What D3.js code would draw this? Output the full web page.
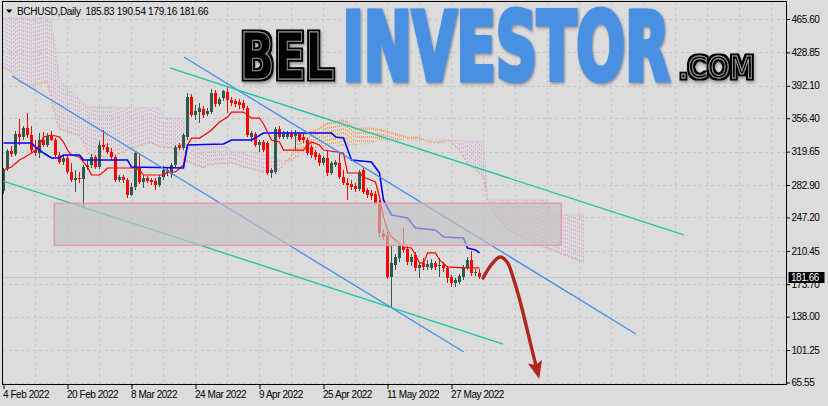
<!DOCTYPE html>
<html>
<head>
<meta charset="utf-8">
<script src="https://cdn.jsdelivr.net/npm/d3@7"></script>
<style>
  html, body { margin: 0; padding: 0; background: #dcdcdc; }
  svg { display: block; font-family: "Liberation Sans", Arial, sans-serif; }
</style>
</head>
<body>
<div class="canvas"></div>
<script>
// price axis ticks and date ticks (bar index from 4 Feb 2022)
const priceTicks = [465.6, 428.85, 392.1, 356.4, 319.65, 282.9, 247.2, 210.45, 173.7, 138.0, 101.25, 65.55];
const dateTickBars = [0, 16, 32, 48, 64, 80, 96, 112];
const dateTickLabels = ['4 Feb 2022', '20 Feb 2022', '8 Mar 2022', '24 Mar 2022', '9 Apr 2022', '25 Apr 2022', '11 May 2022', '27 May 2022'];

const symbolTitle = 'BCHUSD,Daily';
const lastQuote = [185.83, 190.54, 179.16, 181.66];

// daily candles
const opens = [276.3, 300.5, 320.3, 317.0, 339.0, 335.7, 345.6, 337.9, 321.4, 318.1,
  332.4, 326.9, 336.8, 332.4, 315.9, 308.2, 312.6, 297.2, 288.4, 290.6,
  289.5, 302.7, 304.9, 313.7, 302.7, 326.9, 324.7, 319.2, 313.7, 288.4,
  291.7, 288.4, 271.9, 280.7, 302.7, 286.2, 290.6, 288.4, 287.3, 282.9,
  291.7, 299.4, 295.0, 304.9, 326.9, 323.6, 335.7, 379.8, 359.9, 363.2,
  366.5, 361.0, 363.2, 384.2, 372.0, 378.7, 385.3, 376.4, 375.4, 374.2,
  373.1, 367.6, 335.7, 339.0, 326.9, 330.2, 329.1, 296.1, 297.2, 344.5,
  335.7, 335.7, 340.1, 336.8, 339.0, 335.7, 332.4, 324.7, 319.2, 315.9,
  307.1, 312.6, 296.1, 304.9, 307.1, 291.7, 285.1, 284.0, 281.8, 278.5,
  299.4, 277.4, 274.1, 273.0, 263.1, 230.1, 227.9, 181.7, 194.9, 202.6,
  214.7, 212.5, 198.2, 205.9, 191.6, 197.1, 192.7, 191.6, 197.1, 193.8,
  194.9, 191.6, 181.7, 175.1, 176.2, 181.7, 191.6, 200.4, 186.1, 185.83];
const highs = [301.6, 322.5, 325.8, 342.3, 355.5, 347.8, 362.1, 347.8, 332.4, 340.1,
  341.2, 340.1, 342.3, 334.6, 319.2, 314.8, 315.9, 307.1, 299.4, 297.2,
  304.9, 310.4, 317.0, 315.9, 331.3, 343.4, 329.1, 323.6, 315.9, 293.9,
  293.9, 290.6, 285.1, 320.3, 318.1, 293.9, 292.8, 290.6, 290.6, 293.9,
  303.8, 301.6, 307.1, 326.9, 329.1, 340.1, 384.2, 383.1, 370.9, 373.1,
  369.8, 367.6, 388.6, 387.5, 379.8, 387.5, 391.9, 379.8, 377.6, 377.6,
  376.4, 369.8, 342.3, 341.2, 332.4, 332.4, 331.3, 301.6, 346.7, 347.8,
  342.3, 342.3, 342.3, 343.4, 340.1, 339.0, 334.6, 326.9, 321.4, 318.1,
  314.8, 321.4, 309.3, 310.4, 318.1, 299.4, 290.6, 288.4, 285.1, 299.4,
  302.7, 279.6, 277.4, 276.3, 266.4, 234.5, 231.2, 216.9, 207.0, 219.1,
  235.6, 215.8, 207.0, 209.2, 198.2, 202.6, 200.4, 201.5, 199.3, 202.6,
  198.2, 193.8, 183.9, 180.6, 185.0, 194.9, 203.7, 210.3, 190.5, 190.54];
const lows = [273.0, 298.0, 313.7, 314.8, 326.9, 332.4, 334.6, 318.1, 314.8, 312.6,
  324.7, 324.7, 331.3, 313.7, 306.0, 304.9, 295.0, 286.2, 275.2, 285.1,
  258.7, 299.4, 301.6, 300.5, 300.5, 321.4, 317.0, 310.4, 286.2, 286.2,
  285.1, 268.6, 270.8, 277.4, 284.0, 279.6, 285.1, 282.9, 277.4, 280.7,
  288.4, 292.8, 290.6, 302.7, 321.4, 321.4, 332.4, 357.7, 354.4, 351.1,
  356.6, 358.8, 361.0, 368.7, 369.8, 375.4, 362.1, 369.8, 368.7, 366.5,
  365.4, 335.7, 330.2, 324.7, 319.2, 319.2, 293.9, 290.6, 295.0, 333.5,
  333.5, 333.5, 333.5, 321.4, 330.2, 329.1, 315.9, 312.6, 310.4, 303.8,
  304.9, 292.8, 293.9, 302.7, 289.5, 282.9, 266.4, 277.4, 275.2, 276.3,
  273.0, 268.6, 266.4, 260.9, 226.0, 222.4, 179.5, 148.6, 189.4, 198.2,
  208.1, 194.9, 193.8, 188.3, 180.6, 189.4, 189.4, 189.4, 189.4, 181.7,
  187.2, 175.1, 170.7, 170.7, 174.0, 178.4, 189.4, 182.8, 182.8, 179.16];
const closes = [299.4, 320.3, 317.0, 339.0, 335.7, 345.6, 337.9, 321.4, 318.1, 332.4,
  326.9, 336.8, 332.4, 315.9, 308.2, 312.6, 297.2, 288.4, 290.6, 289.5,
  302.7, 304.9, 313.7, 302.7, 326.9, 324.7, 319.2, 313.7, 288.4, 291.7,
  288.4, 271.9, 280.7, 318.1, 286.2, 290.6, 287.3, 286.2, 282.9, 291.7,
  299.4, 296.1, 304.9, 324.7, 323.6, 337.9, 379.8, 359.9, 364.3, 367.6,
  359.9, 364.3, 384.2, 372.0, 377.6, 386.4, 376.4, 373.1, 372.0, 370.9,
  367.6, 337.9, 340.1, 326.9, 330.2, 321.4, 296.1, 299.4, 344.5, 335.7,
  339.0, 340.1, 335.7, 339.0, 332.4, 332.4, 318.1, 315.9, 313.7, 307.1,
  312.6, 296.1, 307.1, 308.2, 291.7, 285.1, 282.9, 280.7, 278.5, 297.2,
  275.2, 271.9, 270.8, 263.1, 230.0, 225.7, 181.7, 197.1, 203.7, 216.9,
  211.4, 198.2, 203.7, 191.6, 194.9, 192.7, 196.0, 197.1, 192.7, 194.9,
  191.6, 180.6, 175.1, 178.4, 182.8, 192.7, 200.4, 186.1, 187.2, 181.66];

// ichimoku lines: [bar, price]
const tenkan = [[0, 299.4], [2, 302.7], [4, 310.4], [5, 312.6], [7, 318.1], [8, 321.4], [9, 326.9],
  [10, 335.7], [12, 337.9], [14, 335.7], [15, 330.2], [16, 321.4], [17, 315.9], [19, 313.7],
  [20, 308.2], [21, 302.7], [22, 293.9], [24, 293.9], [25, 297.2], [26, 301.6], [33, 301.6],
  [34, 299.4], [35, 293.9], [40, 293.9], [41, 297.2], [43, 297.2], [45, 304.9], [46, 326.9],
  [47, 334.6], [49, 334.6], [51, 340.1], [52, 343.4], [54, 352.2], [56, 357.7], [57, 363.2],
  [60, 363.2], [61, 359.9], [62, 356.6], [64, 356.6], [65, 350.0], [66, 341.2], [67, 332.4],
  [69, 330.2], [70, 321.4], [75, 321.4], [76, 326.9], [77, 330.2], [79, 326.9], [80, 321.4],
  [85, 318.1], [86, 296.1], [89, 296.1], [90, 291.7], [93, 286.2], [94, 269.7], [95, 247.7],
  [96, 233.4], [97, 225.7], [98, 222.4], [100, 214.7], [102, 213.6], [103, 205.9], [104, 197.1],
  [105, 197.1], [106, 208.1], [108, 208.1], [109, 200.4], [111, 192.7], [115, 191.6], [119, 191.6]];
const kijun = [[0, 329.1], [7, 329.1], [8, 324.7], [9, 321.4], [10, 318.1], [12, 312.6], [14, 312.6],
  [15, 315.9], [19, 315.9], [20, 310.4], [31, 310.4], [32, 302.7], [45, 301.6], [46, 326.9],
  [55, 328.0], [57, 332.4], [62, 332.4], [65, 340.1], [82, 340.1], [83, 335.7], [85, 334.6],
  [87, 310.4], [92, 308.2], [94, 296.1], [95, 266.4], [97, 249.9], [101, 246.6], [103, 235.6],
  [108, 233.4], [110, 225.7], [115, 224.6], [116, 213.6], [118, 211.4], [119, 208.1]];
const spanA = [[0, 411.7], [2, 407.3], [4, 395.2], [7, 391.9], [10, 395.2], [11, 396.3], [12, 376.4],
  [13, 356.6], [14, 344.5], [16, 341.2], [19, 336.8], [20, 330.2], [21, 318.1], [22, 315.9],
  [24, 313.7], [27, 313.7], [31, 321.4], [34, 325.8], [36, 329.1], [37, 329.1], [39, 324.7],
  [42, 323.6], [43, 319.2], [45, 310.4], [50, 301.6], [51, 304.9], [57, 307.1], [60, 302.7],
  [65, 297.2], [69, 299.4], [70, 304.9], [72, 315.9], [73, 329.1], [74, 337.9], [78, 343.4],
  [81, 351.1], [85, 354.4], [86, 352.2], [88, 345.6], [92, 345.6], [95, 343.4], [101, 335.7],
  [104, 335.7], [106, 330.2], [109, 329.1], [111, 332.4], [114, 321.4], [116, 307.1],
  [120, 291.7], [121, 266.4], [123, 249.9], [126, 233.4], [133, 219.1], [137, 211.4],
  [142, 202.6], [145, 198.2]];
const spanB = [[0, 466.7], [11, 466.7], [12, 461.2], [13, 431.5], [14, 398.5], [16, 390.8],
  [21, 368.7], [39, 367.6], [40, 356.6], [45, 356.6], [46, 324.7], [56, 324.7], [57, 319.2],
  [65, 319.2], [69, 310.4], [72, 308.2], [74, 315.9], [79, 324.7], [87, 326.9], [92, 329.1],
  [94, 332.4], [111, 332.4], [120, 330.2], [121, 266.4], [136, 266.4], [137, 250.0], [145, 250.0]];

// hand drawn objects: [bar, price]
const blueChannel = [[[2.1, 402.9], [115.1, 99.1]], [[45.1, 423.8], [158.1, 118.9]]];
const tealChannel = [[[41.6, 411.7], [170.1, 227.9]], [[-0.1, 287.3], [124.9, 107.9]]];
const zoneBars = [12.7, 139.45];
const zonePrices = [216.5, 262.8];
const forecastArrow = [[119.9, 180.6], [121.9, 194.9], [124.1, 203.7], [125.9, 198.2], [127.6, 178.4],
  [129.4, 150.9], [131.1, 120.1], [133.0, 86.0]];

const width = 828;
const height = 406;
const plot = { left: 3, right: 787, top: 2, bottom: 385 };

const x = d3.scaleLinear().domain([0, 196]).range([3.5, 787.5]);
const y = d3.scaleLinear().domain([65.55, 465.6]).range([382.5, 19]);

const svg = d3
  .select('.canvas')
  .append('svg')
  .attr('width', width)
  .attr('height', height);

const defs = svg.append('defs');
defs
  .append('clipPath')
  .attr('id', 'plotClip')
  .append('rect')
  .attr('x', plot.left)
  .attr('y', plot.top)
  .attr('width', plot.right - plot.left)
  .attr('height', plot.bottom - plot.top);

const shadow = defs.append('filter').attr('id', 'logoShadow').attr('x', '-10%').attr('y', '-10%').attr('width', '120%').attr('height', '130%');
shadow
  .append('feDropShadow')
  .attr('dx', 1.5)
  .attr('dy', 1.5)
  .attr('stdDeviation', 1.5)
  .attr('flood-color', '#444')
  .attr('flood-opacity', 0.55);

// black letters with a thin grey inline
const inline = defs.append('filter').attr('id', 'inline').attr('x', '-10%').attr('y', '-20%').attr('width', '120%').attr('height', '140%');
inline.append('feMorphology').attr('in', 'SourceAlpha').attr('operator', 'dilate').attr('radius', 2.2).attr('result', 'fat');
inline.append('feFlood').attr('flood-color', '#000').attr('result', 'black');
inline.append('feComposite').attr('in', 'black').attr('in2', 'fat').attr('operator', 'in').attr('result', 'fatBlack');
inline.append('feGaussianBlur').attr('in', 'fat').attr('stdDeviation', 1.5).attr('result', 'blur');
inline.append('feOffset').attr('in', 'blur').attr('dx', 1.5).attr('dy', 1.5).attr('result', 'offBlur');
inline.append('feFlood').attr('flood-color', '#444').attr('flood-opacity', 0.5).attr('result', 'grey');
inline.append('feComposite').attr('in', 'grey').attr('in2', 'offBlur').attr('operator', 'in').attr('result', 'shade');
const inlineMerge = inline.append('feMerge');
inlineMerge.append('feMergeNode').attr('in', 'shade');
inlineMerge.append('feMergeNode').attr('in', 'fatBlack');
inlineMerge.append('feMergeNode').attr('in', 'SourceGraphic');

defs
  .append('marker')
  .attr('id', 'arrowHead')
  .attr('markerUnits', 'userSpaceOnUse')
  .attr('markerWidth', 20)
  .attr('markerHeight', 20)
  .attr('viewBox', '-2 -9 18 18')
  .attr('refX', 0)
  .attr('refY', 0)
  .attr('orient', 'auto')
  .append('path')
  .attr('d', 'M-2,-6.5 L14,0 L-2,6.5 L1,0 Z')
  .attr('fill', '#b3241a');

svg.append('rect').attr('width', width).attr('height', height).attr('fill', '#dcdcdc');

// grid
const grid = svg.append('g').attr('id', 'grid');
grid
  .selectAll('line.h')
  .data(priceTicks)
  .join('line')
  .attr('class', 'h')
  .attr('x1', plot.left)
  .attr('x2', plot.right)
  .attr('y1', d => Math.round(y(d)) + 0.5)
  .attr('y2', d => Math.round(y(d)) + 0.5)
  .attr('stroke', '#c6c6c6')
  .attr('stroke-dasharray', '3,3');
grid
  .selectAll('line.v')
  .data(d3.range(8, 196, 8))
  .join('line')
  .attr('class', 'v')
  .attr('x1', d => x(d))
  .attr('x2', d => x(d))
  .attr('y1', plot.top)
  .attr('y2', plot.bottom)
  .attr('stroke', '#c6c6c6')
  .attr('stroke-dasharray', '3,3');

const chart = svg.append('g').attr('clip-path', 'url(#plotClip)');

// ichimoku cloud hatch
const aAt = d3.scaleLinear().domain(spanA.map(d => d[0])).range(spanA.map(d => d[1])).clamp(true);
const bAt = d3.scaleLinear().domain(spanB.map(d => d[0])).range(spanB.map(d => d[1])).clamp(true);
const hatchBars = d3.range(0, 145.01, 0.5);
chart
  .append('g')
  .attr('shape-rendering', 'crispEdges')
  .selectAll('line')
  .data(hatchBars)
  .join('line')
  .attr('x1', d => x(d))
  .attr('x2', d => x(d))
  .attr('y1', d => Math.round(y(aAt(d))))
  .attr('y2', d => Math.round(y(bAt(d))))
  .attr('stroke', d => (aAt(d) >= bAt(d) ? '#f4a460' : '#d6b6d6'))
  .attr('stroke-dasharray', '2,2');

const priceLine = d3
  .line()
  .x(d => x(d[0]))
  .y(d => y(d[1]));

chart
  .append('path')
  .attr('d', priceLine(spanA))
  .attr('fill', 'none')
  .attr('stroke', '#f4a460')
  .attr('stroke-dasharray', '2,2');
chart
  .append('path')
  .attr('d', priceLine(spanB))
  .attr('fill', 'none')
  .attr('stroke', '#d6b6d6')
  .attr('stroke-dasharray', '2,2');

// current price line
chart
  .append('line')
  .attr('x1', plot.left)
  .attr('x2', plot.right)
  .attr('y1', Math.round(y(lastQuote[3])) + 0.5)
  .attr('y2', Math.round(y(lastQuote[3])) + 0.5)
  .attr('stroke', '#c4c4c4');

// candles
const candles = opens.map((o, i) => ({ i, o, h: highs[i], l: lows[i], c: closes[i] }));
const bullFill = '#2f5a4c';
const bearFill = '#ff0000';
const candleGroup = chart.append('g').attr('shape-rendering', 'crispEdges');
candleGroup
  .selectAll('line')
  .data(candles)
  .join('line')
  .attr('x1', d => x(d.i))
  .attr('x2', d => x(d.i))
  .attr('y1', d => Math.round(y(d.h)))
  .attr('y2', d => Math.round(y(d.l)))
  .attr('stroke', d => (d.c >= d.o ? bullFill : bearFill));
candleGroup
  .selectAll('rect')
  .data(candles)
  .join('rect')
  .attr('x', d => x(d.i) - 1.5)
  .attr('width', 3)
  .attr('y', d => Math.round(y(Math.max(d.o, d.c))))
  .attr('height', d => Math.max(1, Math.round(y(Math.min(d.o, d.c))) - Math.round(y(Math.max(d.o, d.c)))))
  .attr('fill', d => (d.c >= d.o ? bullFill : bearFill));

chart
  .append('path')
  .attr('d', priceLine(tenkan))
  .attr('fill', 'none')
  .attr('stroke', '#ff0000')
  .attr('stroke-width', 1.2);
chart
  .append('path')
  .attr('d', priceLine(kijun))
  .attr('fill', 'none')
  .attr('stroke', '#0000ff')
  .attr('stroke-width', 1.6);

// channels
chart
  .append('g')
  .selectAll('path')
  .data(blueChannel)
  .join('path')
  .attr('d', priceLine)
  .attr('stroke', '#3d8ef2')
  .attr('stroke-width', 1.3)
  .attr('fill', 'none');
chart
  .append('g')
  .selectAll('path')
  .data(tealChannel)
  .join('path')
  .attr('d', priceLine)
  .attr('stroke', '#1fc6a2')
  .attr('stroke-width', 1.3)
  .attr('fill', 'none');

// support zone
chart
  .append('rect')
  .attr('x', x(zoneBars[0]))
  .attr('y', y(zonePrices[1]))
  .attr('width', x(zoneBars[1]) - x(zoneBars[0]))
  .attr('height', y(zonePrices[0]) - y(zonePrices[1]))
  .attr('fill', '#c2c2c2')
  .attr('fill-opacity', 0.66)
  .attr('stroke', '#e59aae')
  .attr('stroke-width', 1.5);

// forecast arrow
chart
  .append('path')
  .attr('d', priceLine.curve(d3.curveCatmullRom)(forecastArrow))
  .attr('fill', 'none')
  .attr('stroke', '#b3241a')
  .attr('stroke-width', 3.4)
  .attr('stroke-linecap', 'round')
  .attr('marker-end', 'url(#arrowHead)');
priceLine.curve(d3.curveLinear);

// watermark: squeeze each word into its box with a horizontal scale
const logo = svg.append('g').attr('id', 'logo');
const logoWord = (word, left, baseline, boxWidth, size, family, weight) => {
  const t = logo
    .append('text')
    .attr('font-family', family)
    .attr('font-weight', weight)
    .attr('font-size', size)
    .text(word);
  const natural = t.node().getComputedTextLength();
  t.attr('transform', `translate(${left},${baseline}) scale(${boxWidth / natural},1)`);
  return t;
};
logoWord('BEL', 240, 79, 94, 64, '"DejaVu Sans Condensed", "Liberation Sans Narrow", sans-serif', 'bold')
  .attr('fill', '#000')
  .attr('stroke', '#9a9a9a')
  .attr('stroke-width', 1)
  .attr('filter', 'url(#inline)');
logoWord('INVESTOR', 342.5, 79.5, 327, 95, '"DejaVu Sans Condensed", "Liberation Sans Narrow", sans-serif', 'bold')
  .attr('fill', '#4a90e2')
  .attr('stroke', '#4a90e2')
  .attr('stroke-width', 5)
  .attr('stroke-linejoin', 'miter')
  .attr('filter', 'url(#logoShadow)');
logoWord('.COM', 679, 78, 75, 30, '"DejaVu Sans", sans-serif', 'normal')
  .attr('fill', '#000')
  .attr('stroke', '#9a9a9a')
  .attr('stroke-width', 1)
  .attr('filter', 'url(#inline)');

// axes
const yAxis = svg
  .append('g')
  .attr('transform', `translate(${plot.right},0)`)
  .call(
    d3
      .axisRight(y)
      .tickValues(priceTicks)
      .tickSize(3)
      .tickPadding(1.5)
      .tickFormat(d3.format('.2f'))
  );
yAxis.select('.domain').remove();
yAxis.selectAll('text').attr('font-size', 10).attr('letter-spacing', -0.45).attr('fill', '#000').attr('font-family', '"Liberation Sans", Arial, sans-serif');

const xAxis = svg
  .append('g')
  .attr('transform', `translate(0,${plot.bottom})`)
  .call(
    d3
      .axisBottom(x)
      .tickValues(dateTickBars)
      .tickSize(4)
      .tickPadding(2)
      .tickFormat((d, i) => dateTickLabels[i])
  );
xAxis.select('.domain').remove();
xAxis
  .selectAll('text')
  .attr('text-anchor', 'start')
  .attr('x', -1)
  .attr('font-size', 10)
  .attr('letter-spacing', -0.45)
  .attr('fill', '#000')
  .attr('font-family', '"Liberation Sans", Arial, sans-serif');

// frame
svg
  .append('rect')
  .attr('x', plot.left - 0.5)
  .attr('y', plot.top - 0.5)
  .attr('width', plot.right - plot.left)
  .attr('height', plot.bottom - plot.top)
  .attr('fill', 'none')
  .attr('stroke', '#000');

// last price marker
const lastY = Math.round(y(lastQuote[3]));
svg
  .append('rect')
  .attr('x', 788.5)
  .attr('y', lastY - 5)
  .attr('width', 36)
  .attr('height', 11)
  .attr('fill', '#000');
svg
  .append('text')
  .attr('x', 791)
  .attr('y', lastY + 4)
  .attr('font-size', 10)
  .attr('letter-spacing', -0.45)
  .attr('fill', '#fff')
  .text(d3.format('.2f')(lastQuote[3]));

// title
svg
  .append('path')
  .attr('d', 'M6,9.5 L12.5,9.5 L9.25,13 Z')
  .attr('fill', '#000');
svg
  .append('text')
  .attr('x', 17)
  .attr('y', 14.5)
  .attr('font-size', 10)
  .attr('letter-spacing', -0.3)
  .attr('fill', '#000')
  .attr('xml:space', 'preserve')
  .text(`${symbolTitle}  ${lastQuote.map(d3.format('.2f')).join(' ')}`);
</script>
</body>
</html>
